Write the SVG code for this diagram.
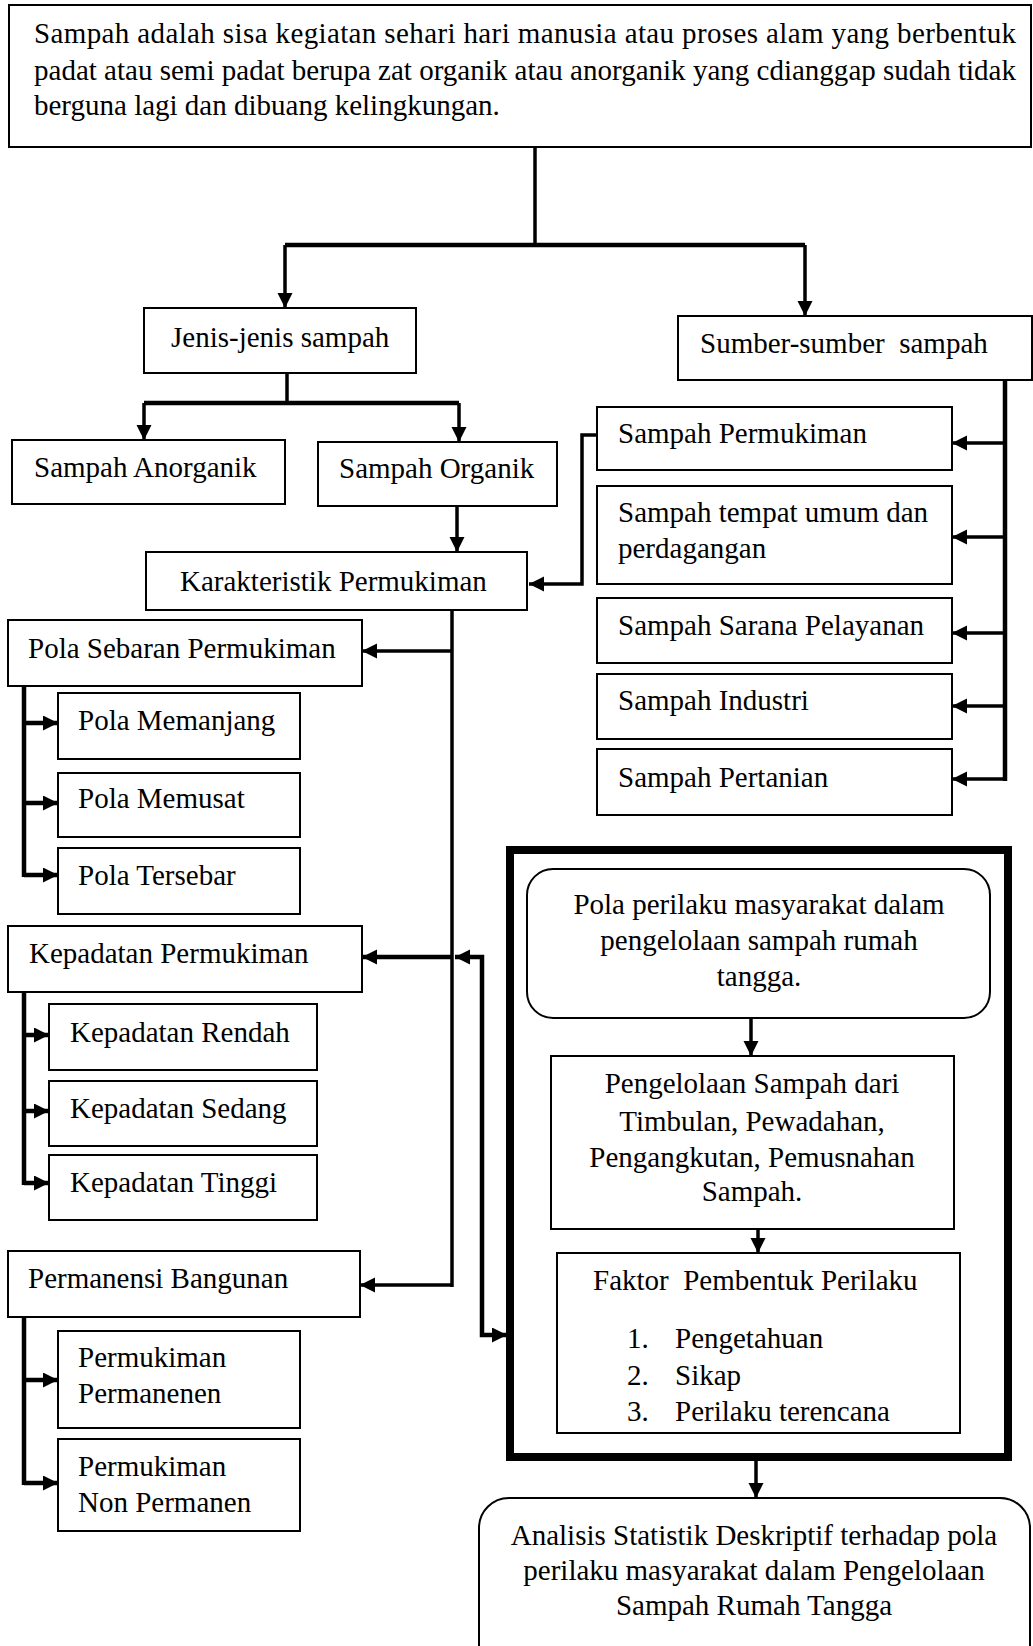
<svg xmlns="http://www.w3.org/2000/svg" width="1033" height="1646" viewBox="0 0 1033 1646">
<style>
.b{fill:#fff;stroke:#000;stroke-width:2}
.t{font-family:"Liberation Serif","Times New Roman",serif;font-size:29px;fill:#000}
.m{text-anchor:middle}
.c{fill:none;stroke:#000;stroke-width:3.5}
.k{fill:none;stroke:#000;stroke-width:4.5}
.a{marker-end:url(#ah)}
</style>
<defs>
<marker id="ah" markerUnits="userSpaceOnUse" markerWidth="16" markerHeight="16" refX="15" refY="7.5" orient="auto-start-reverse" viewBox="0 0 16 16">
<path d="M0,0 L15,7.5 L0,15 z" fill="#000"/>
</marker>
</defs>
<rect width="1033" height="1646" fill="#fff"/>

<g id="connectors">
<path class="c" d="M535,147 V245"/>
<path class="k" d="M285,245 H805"/>
<path class="c a" d="M285,245 V308"/>
<path class="c a" d="M805,245 V316"/>
<path class="c" d="M287,373 V403"/>
<path class="k" d="M144,403 H459"/>
<path class="c a" d="M144,403 V440"/>
<path class="c a" d="M459,403 V442"/>
<path class="c a" d="M457,506 V552"/>
<path class="k" d="M1005,380 V781"/>
<path class="c a" d="M1005,443 H952"/>
<path class="c a" d="M1005,537 H952"/>
<path class="c a" d="M1005,633 H952"/>
<path class="c a" d="M1005,706 H952"/>
<path class="c a" d="M1005,779 H952"/>
<path class="c a" d="M597,435 H582 V584 H529"/>
<path class="c" d="M452,610 V1287"/>
<path class="c a" d="M452,651 H362"/>
<path class="k a" d="M452,957 H362"/>
<path class="c a" d="M452,1285 H360"/>
<path class="k" d="M24,686 V877"/>
<path class="k a" d="M24,723 H58"/>
<path class="k a" d="M24,803 H58"/>
<path class="k a" d="M24,875 H58"/>
<path class="k" d="M24,992 V1185"/>
<path class="k a" d="M24,1035 H49"/>
<path class="k a" d="M24,1111 H49"/>
<path class="k a" d="M24,1183 H49"/>
<path class="k" d="M24,1317 V1485"/>
<path class="k a" d="M24,1380 H58"/>
<path class="k a" d="M24,1483 H58"/>
<path class="k a" d="M455,957 H482 V1335 H507" style="marker-start:url(#ah)"/>
<path class="c a" d="M751,1018 V1056"/>
<path class="c a" d="M758,1229 V1253"/>
<path class="c a" d="M756,1461 V1498"/>
</g>

<g id="definisi">
<rect class="b" x="9" y="5" width="1022" height="142"/>
<text class="t" x="34" y="43" textLength="982" lengthAdjust="spacing">Sampah adalah sisa kegiatan sehari hari manusia atau proses alam yang berbentuk</text>
<text class="t" x="34" y="80" textLength="982" lengthAdjust="spacing">padat atau semi padat berupa zat organik atau anorganik yang cdianggap sudah tidak</text>
<text class="t" x="34" y="115">berguna lagi dan dibuang kelingkungan.</text>
</g>
<g id="jenis">
<rect class="b" x="144" y="308" width="272" height="65"/>
<text class="t" x="171" y="347">Jenis-jenis sampah</text>
</g>
<g id="sumber">
<rect class="b" x="678" y="316" width="354" height="64"/>
<text class="t" x="700" y="353">Sumber-sumber&#160; sampah</text>
</g>
<g id="anorganik">
<rect class="b" x="12" y="440" width="273" height="64"/>
<text class="t" x="34" y="477">Sampah Anorganik</text>
</g>
<g id="organik">
<rect class="b" x="318" y="442" width="239" height="64"/>
<text class="t" x="339" y="478">Sampah Organik</text>
</g>
<g id="karakteristik">
<rect class="b" x="146" y="552" width="381" height="58"/>
<text class="t" x="180" y="591">Karakteristik Permukiman</text>
</g>
<g id="s-permukiman">
<rect class="b" x="597" y="407" width="355" height="63"/>
<text class="t" x="618" y="443">Sampah Permukiman</text>
</g>
<g id="s-umum">
<rect class="b" x="597" y="486" width="355" height="98"/>
<text class="t" x="618" y="522">Sampah tempat umum dan</text>
<text class="t" x="618" y="558">perdagangan</text>
</g>
<g id="s-sarana">
<rect class="b" x="597" y="598" width="355" height="65"/>
<text class="t" x="618" y="635">Sampah Sarana Pelayanan</text>
</g>
<g id="s-industri">
<rect class="b" x="597" y="674" width="355" height="65"/>
<text class="t" x="618" y="710">Sampah Industri</text>
</g>
<g id="s-pertanian">
<rect class="b" x="597" y="749" width="355" height="66"/>
<text class="t" x="618" y="787">Sampah Pertanian</text>
</g>
<g id="pola-sebaran">
<rect class="b" x="8" y="620" width="354" height="66"/>
<text class="t" x="28" y="658">Pola Sebaran Permukiman</text>
</g>
<g id="pola-memanjang">
<rect class="b" x="58" y="693" width="242" height="66"/>
<text class="t" x="78" y="730">Pola Memanjang</text>
</g>
<g id="pola-memusat">
<rect class="b" x="58" y="773" width="242" height="64"/>
<text class="t" x="78" y="808">Pola Memusat</text>
</g>
<g id="pola-tersebar">
<rect class="b" x="58" y="848" width="242" height="66"/>
<text class="t" x="78" y="885">Pola Tersebar</text>
</g>
<g id="kepadatan">
<rect class="b" x="8" y="926" width="354" height="66"/>
<text class="t" x="29" y="963">Kepadatan Permukiman</text>
</g>
<g id="k-rendah">
<rect class="b" x="49" y="1004" width="268" height="66"/>
<text class="t" x="70" y="1042">Kepadatan Rendah</text>
</g>
<g id="k-sedang">
<rect class="b" x="49" y="1081" width="268" height="65"/>
<text class="t" x="70" y="1118">Kepadatan Sedang</text>
</g>
<g id="k-tinggi">
<rect class="b" x="49" y="1155" width="268" height="65"/>
<text class="t" x="70" y="1192">Kepadatan Tinggi</text>
</g>
<g id="permanensi">
<rect class="b" x="8" y="1251" width="352" height="66"/>
<text class="t" x="28" y="1288">Permanensi Bangunan</text>
</g>
<g id="p-permanen">
<rect class="b" x="58" y="1331" width="242" height="97"/>
<text class="t" x="78" y="1367">Permukiman</text>
<text class="t" x="78" y="1403">Permanenen</text>
</g>
<g id="p-nonpermanen">
<rect class="b" x="58" y="1439" width="242" height="92"/>
<text class="t" x="78" y="1476">Permukiman</text>
<text class="t" x="78" y="1512">Non Permanen</text>
</g>
<g id="frame">
<rect x="510" y="850" width="498" height="607" fill="none" stroke="#000" stroke-width="8"/>
</g>
<g id="pola-perilaku">
<rect class="b" x="527" y="869" width="463" height="149" rx="26"/>
<text class="t m" x="759" y="914">Pola perilaku masyarakat dalam</text>
<text class="t m" x="759" y="950">pengelolaan sampah rumah</text>
<text class="t m" x="759" y="986">tangga.</text>
</g>
<g id="pengelolaan">
<rect class="b" x="551" y="1056" width="403" height="173"/>
<text class="t m" x="752" y="1093">Pengelolaan Sampah dari</text>
<text class="t m" x="752" y="1131">Timbulan, Pewadahan,</text>
<text class="t m" x="752" y="1167">Pengangkutan, Pemusnahan</text>
<text class="t m" x="752" y="1201">Sampah.</text>
</g>
<g id="faktor">
<rect class="b" x="557" y="1253" width="403" height="180"/>
<text class="t" x="593" y="1290">Faktor&#160; Pembentuk Perilaku</text>
<text class="t" x="627" y="1348">1.</text>
<text class="t" x="675" y="1348">Pengetahuan</text>
<text class="t" x="627" y="1385">2.</text>
<text class="t" x="675" y="1385">Sikap</text>
<text class="t" x="627" y="1421">3.</text>
<text class="t" x="675" y="1421">Perilaku terencana</text>
</g>
<g id="analisis">
<rect class="b" x="479" y="1498" width="551" height="180" rx="30"/>
<text class="t m" x="754" y="1545">Analisis Statistik Deskriptif terhadap pola</text>
<text class="t m" x="754" y="1580">perilaku masyarakat dalam Pengelolaan</text>
<text class="t m" x="754" y="1615">Sampah Rumah Tangga</text>
</g>
</svg>
